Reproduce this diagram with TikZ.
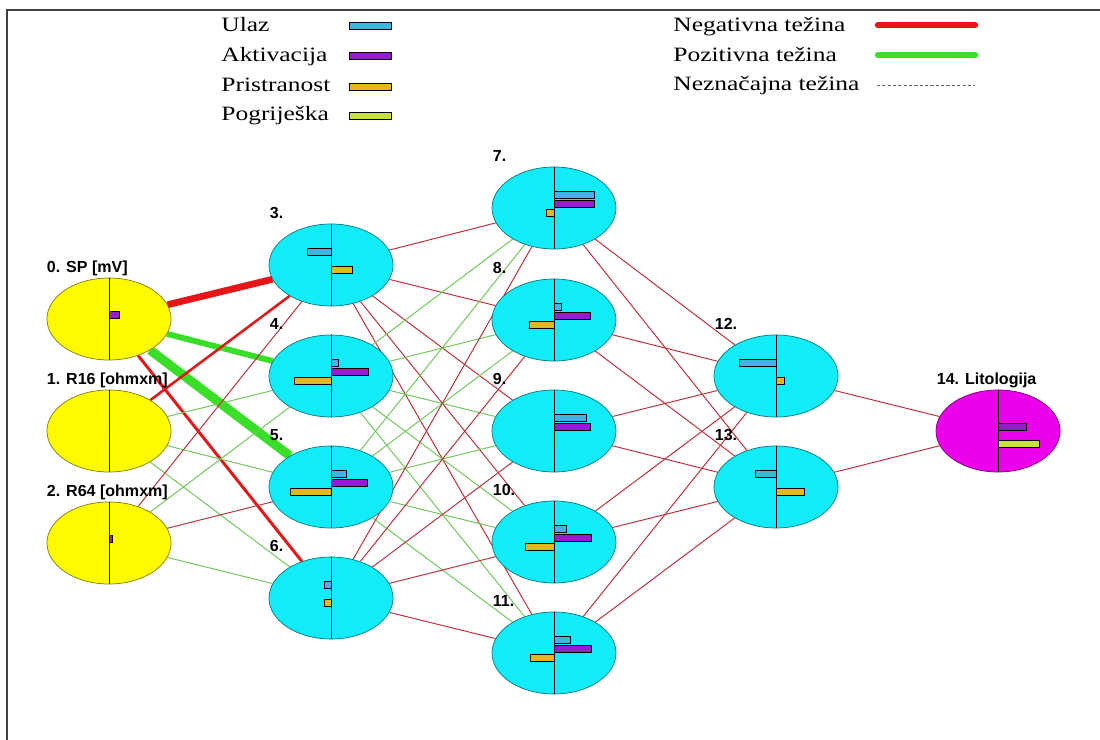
\documentclass[tikz,border=0pt]{standalone}
\usepackage{fontspec}
\setmainfont{Liberation Serif}
\setsansfont{Liberation Sans}
\usetikzlibrary{calc}
\usetikzlibrary{shapes.geometric}
\usetikzlibrary{backgrounds}

\definecolor{negc}{RGB}{228,22,24}
\definecolor{negthin}{RGB}{188,48,58}
\definecolor{posc}{RGB}{58,222,40}
\definecolor{posthin}{RGB}{110,200,90}
\definecolor{ulazc}{RGB}{62,182,222}
\definecolor{aktc}{RGB}{150,28,205}
\definecolor{pric}{RGB}{226,184,30}
\definecolor{pogc}{RGB}{200,226,60}
\definecolor{inc}{RGB}{255,250,0}
\definecolor{hidc}{RGB}{18,236,248}
\definecolor{outc}{RGB}{236,0,236}

\newcommand{\neuronbars}[5]{%
  \draw[axis] (#1.north) -- (#1.south);
  \begin{scope}[shift={(#1.center)}]
    \draw[bar, fill=ulazc] (0,-17) rectangle (#2,-10);
    \draw[bar, fill=aktc] (0,-8) rectangle (#3,-1);
    \draw[bar, fill=pric] (0,1) rectangle (#4,8);
    \draw[bar, fill=pogc] (0,9) rectangle (#5,16);
  \end{scope}}

\begin{document}
\begin{tikzpicture}[x=0.025cm, y=-0.025cm,
  neuron/.style={ellipse, draw=#1!50!black, fill=#1, line width=0.5pt,
    minimum width=3.1cm, minimum height=2.05cm, inner sep=0pt},
  lbl/.style={anchor=base west, inner sep=0pt,
    font=\sffamily\bfseries\fontsize{11.4}{13}\selectfont},
  legtext/.style={anchor=base west, inner sep=0pt, xscale=1.25,
    font=\fontsize{14.5}{17}\selectfont},
  bar/.style={draw=black, line width=0.5pt},
  wneg/.style={draw=negc, line width=#1},
  wpos/.style={draw=posc, line width=#1},
  nthin/.style={draw=negthin, line width=0.7pt},
  pthin/.style={draw=posthin, line width=0.7pt},
  axis/.style={draw=black, line width=0.6pt},
  frame/.style={draw=black!75, line width=1pt}]
    \useasboundingbox (0,0) rectangle (1100,740);
    \draw[frame] (7,740) -- (7,10) -- (1100,10);

    \node[neuron=inc] (n0) at (109,319) {};
    \node[neuron=inc] (n1) at (109,431) {};
    \node[neuron=inc] (n2) at (109,543) {};
    \node[neuron=hidc] (n3) at (331,265) {};
    \node[neuron=hidc] (n4) at (331,376) {};
    \node[neuron=hidc] (n5) at (331,487) {};
    \node[neuron=hidc] (n6) at (331,598) {};
    \node[neuron=hidc] (n7) at (554,208) {};
    \node[neuron=hidc] (n8) at (554,320) {};
    \node[neuron=hidc] (n9) at (554,431) {};
    \node[neuron=hidc] (n10) at (554,542) {};
    \node[neuron=hidc] (n11) at (554,653) {};
    \node[neuron=hidc] (n12) at (776,376) {};
    \node[neuron=hidc] (n13) at (776,487) {};
    \node[neuron=outc] (n14) at (998,431) {};

    \begin{pgfonlayer}{background}
    \draw[wneg=4.8pt] (n0) -- (n3);
    \draw[wpos=4.2pt] (n0) -- (n4);
    \draw[wpos=6.5pt] (n0) -- (n5);
    \draw[wneg=2.1pt] (n0) -- (n6);
    \draw[wneg=1.8pt] (n1) -- (n3);
    \draw[pthin] (n1) -- (n4);
    \draw[pthin] (n1) -- (n5);
    \draw[pthin] (n1) -- (n6);
    \draw[nthin] (n2) -- (n3);
    \draw[pthin] (n2) -- (n4);
    \draw[nthin] (n2) -- (n5);
    \draw[pthin] (n2) -- (n6);

    \draw[nthin] (n3) -- (n7);
    \draw[nthin] (n3) -- (n8);
    \draw[nthin] (n3) -- (n9);
    \draw[nthin] (n3) -- (n10);
    \draw[nthin] (n3) -- (n11);
    \draw[pthin] (n4) -- (n7);
    \draw[pthin] (n4) -- (n8);
    \draw[pthin] (n4) -- (n9);
    \draw[pthin] (n4) -- (n10);
    \draw[pthin] (n4) -- (n11);
    \draw[pthin] (n5) -- (n7);
    \draw[pthin] (n5) -- (n8);
    \draw[pthin] (n5) -- (n9);
    \draw[pthin] (n5) -- (n10);
    \draw[pthin] (n5) -- (n11);
    \draw[nthin] (n6) -- (n7);
    \draw[nthin] (n6) -- (n8);
    \draw[nthin] (n6) -- (n9);
    \draw[nthin] (n6) -- (n10);
    \draw[nthin] (n6) -- (n11);

    \draw[nthin] (n7) -- (n12);
    \draw[nthin] (n7) -- (n13);
    \draw[nthin] (n8) -- (n12);
    \draw[nthin] (n8) -- (n13);
    \draw[nthin] (n9) -- (n12);
    \draw[nthin] (n9) -- (n13);
    \draw[nthin] (n10) -- (n12);
    \draw[nthin] (n10) -- (n13);
    \draw[nthin] (n11) -- (n12);
    \draw[nthin] (n11) -- (n13);
    \draw[nthin] (n12) -- (n14);
    \draw[nthin] (n13) -- (n14);
    \end{pgfonlayer}

    \neuronbars{n0}{0}{10}{0}{0}
    \neuronbars{n1}{0}{0}{0}{0}
    \neuronbars{n2}{0}{3}{0}{0}
    \neuronbars{n3}{-24}{0}{21}{0}
    \neuronbars{n4}{7}{37}{-37}{0}
    \neuronbars{n5}{15}{36}{-41}{0}
    \neuronbars{n6}{-7}{0}{-7}{0}
    \neuronbars{n7}{40}{40}{-8}{0}
    \neuronbars{n8}{7}{36}{-25}{0}
    \neuronbars{n9}{32}{36}{0}{0}
    \neuronbars{n10}{12}{37}{-29}{0}
    \neuronbars{n11}{16}{37}{-24}{0}
    \neuronbars{n12}{-37}{0}{8}{0}
    \neuronbars{n13}{-21}{0}{28}{0}
    \neuronbars{n14}{0}{28}{0}{41}

    \node[lbl] (t0) at ($(n0.west |- n0.north)+(0,-5)$) {0. SP [mV]};
    \node[lbl] (t1) at ($(n1.west |- n1.north)+(0,-5)$) {1. R16 [ohmxm]};
    \node[lbl] (t2) at ($(n2.west |- n2.north)+(0,-5)$) {2. R64 [ohmxm]};
    \node[lbl] (t3) at ($(n3.west |- n3.north)+(1,-5)$) {3.};
    \node[lbl] (t4) at ($(n4.west |- n4.north)+(1,-5)$) {4.};
    \node[lbl] (t5) at ($(n5.west |- n5.north)+(1,-5)$) {5.};
    \node[lbl] (t6) at ($(n6.west |- n6.north)+(1,-5)$) {6.};
    \node[lbl] (t7) at ($(n7.west |- n7.north)+(1,-5)$) {7.};
    \node[lbl] (t8) at ($(n8.west |- n8.north)+(1,-5)$) {8.};
    \node[lbl] (t9) at ($(n9.west |- n9.north)+(1,-5)$) {9.};
    \node[lbl] (t10) at ($(n10.west |- n10.north)+(1,-5)$) {10.};
    \node[lbl] (t11) at ($(n11.west |- n11.north)+(1,-5)$) {11.};
    \node[lbl] (t12) at ($(n12.west |- n12.north)+(1,-5)$) {12.};
    \node[lbl] (t13) at ($(n13.west |- n13.north)+(1,-5)$) {13.};
    \node[lbl] (t14) at ($(n14.west |- n14.north)+(1,-5)$) {14. Litologija};

    \node[legtext] (lulaz) at (221,32) {Ulaz};
    \node[legtext] (lakt) at (221,62) {Aktivacija};
    \node[legtext] (lpri) at (221,92) {Pristranost};
    \node[legtext] (lpog) at (221,121) {Pogriješka};
    \draw[bar, fill=ulazc] (349,22) rectangle (391,29);
    \draw[bar, fill=aktc] (349,52.5) rectangle (391,59.5);
    \draw[bar, fill=pric] (349,83.5) rectangle (391,90.5);
    \draw[bar, fill=pogc] (349,112.5) rectangle (391,119.5);

    \node[legtext] (lneg) at (673,32) {Negativna težina};
    \node[legtext] (lpos) at (673,62) {Pozitivna težina};
    \node[legtext] (lnez) at (673,91) {Neznačajna težina};
    \draw[negc, line width=4.6pt, line cap=round] (878,25) -- (975,25);
    \draw[posc, line width=4.6pt, line cap=round] (878,55) -- (975,55);
    \draw[black!60, line width=0.4pt, dash pattern=on 2.2pt off 1.6pt] (877,85) -- (975,85);
\end{tikzpicture}
\end{document}
